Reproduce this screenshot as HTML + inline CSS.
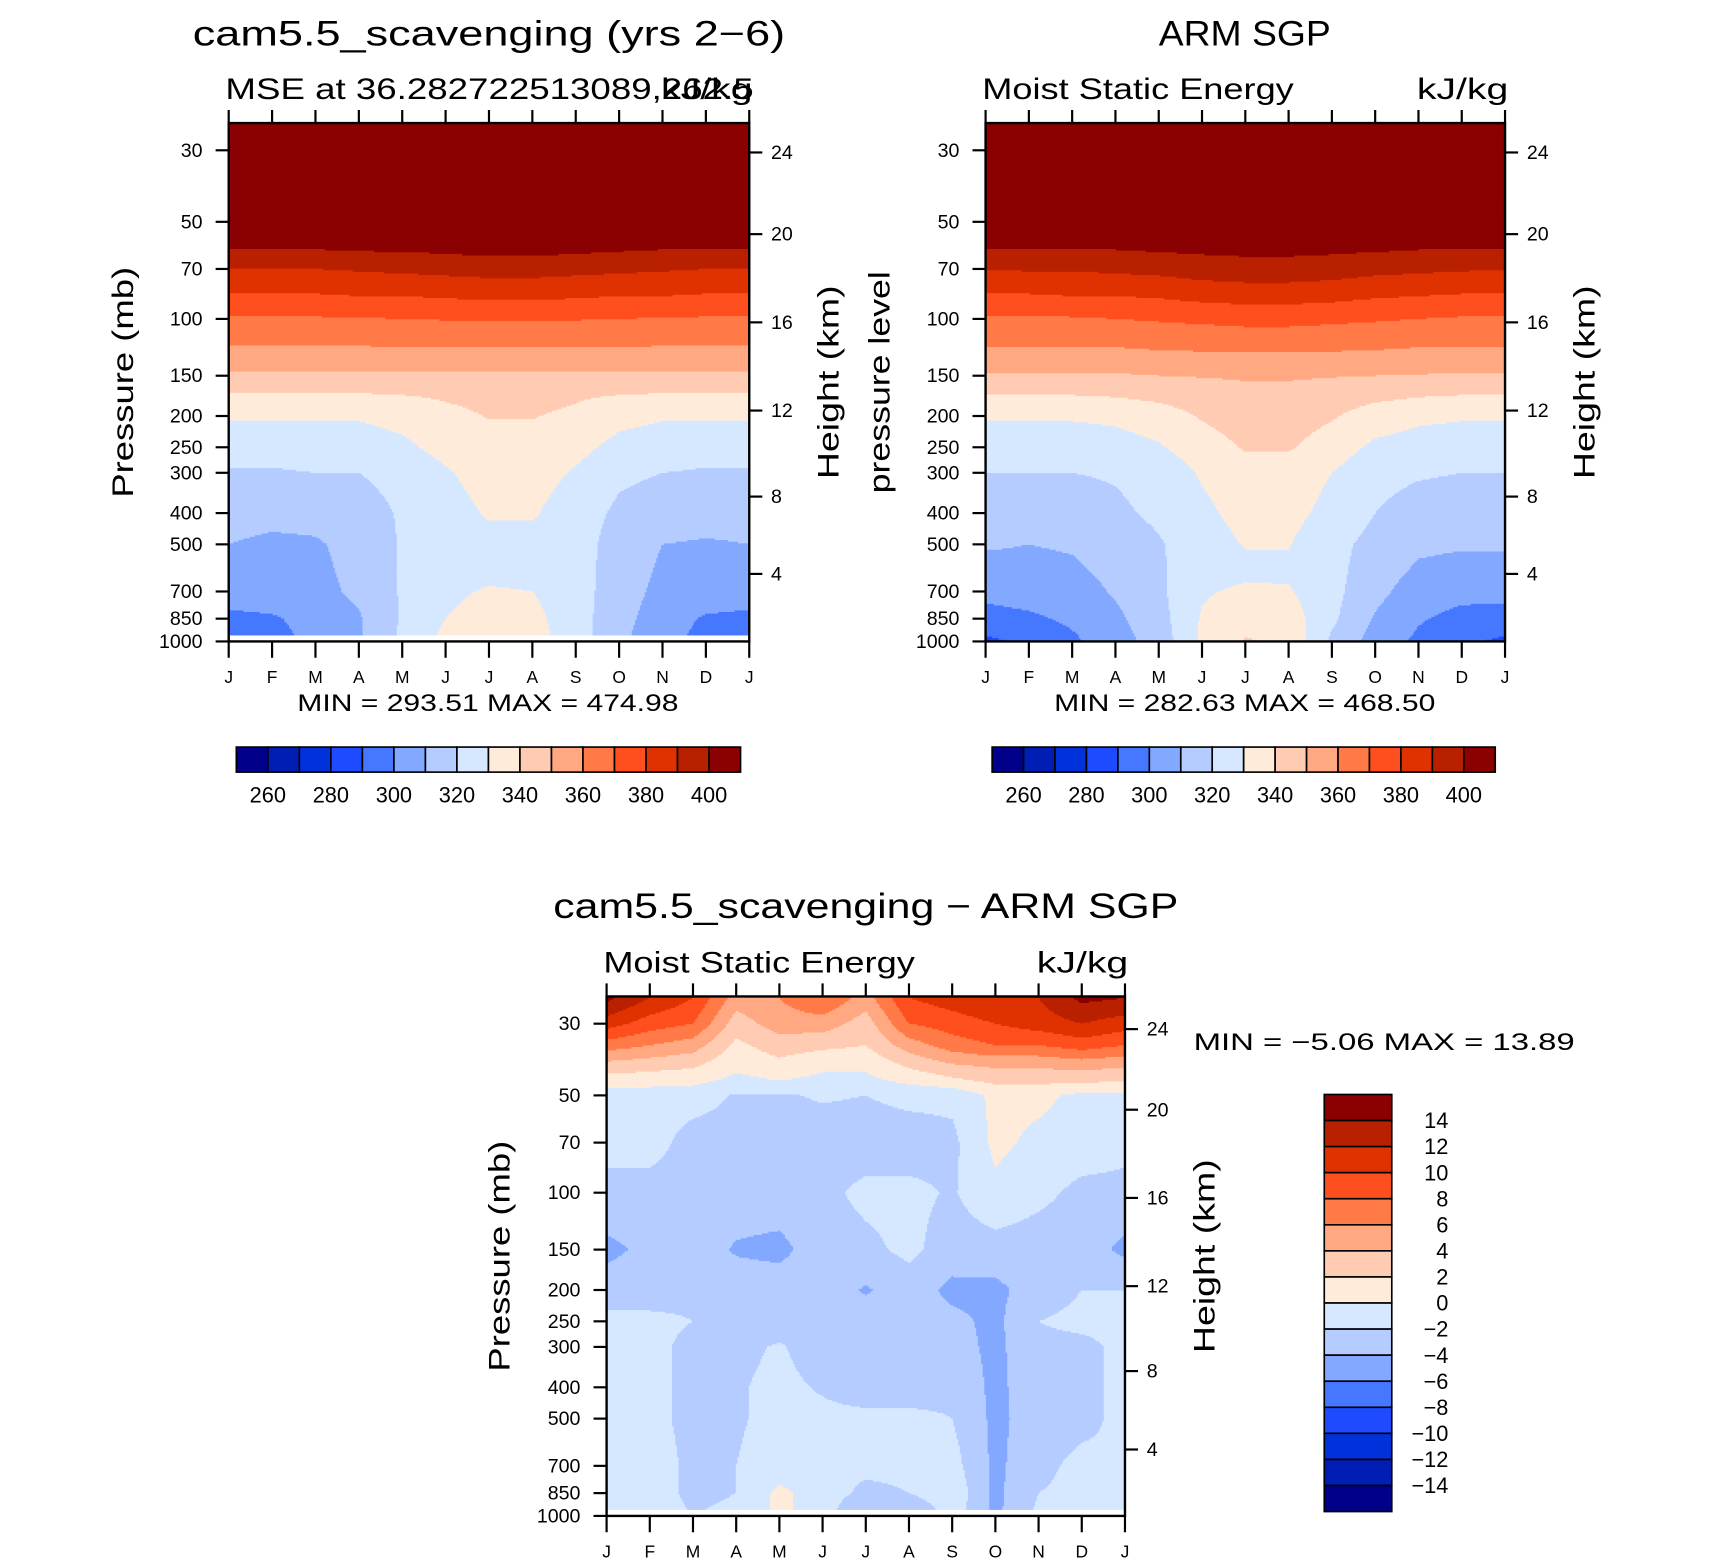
<!DOCTYPE html>
<html><head><meta charset="utf-8">
<style>
html,body{margin:0;padding:0;background:#fff;}
svg{display:block;font-family:"Liberation Sans",sans-serif;}
</style></head>
<body>
<svg id="chart" xmlns="http://www.w3.org/2000/svg" width="1710" height="1567" viewBox="0 0 1570.2 1438.9">
<rect x="0" y="0" width="1570.2" height="1438.9" fill="#fff"/>
<g id="layer"></g>
</svg>
<script>
// ===== data =====
const months = ["J","F","M","A","M","J","J","A","S","O","N","D","J"];
const levels = [25,50,60,70,85,100,125,150,175,200,250,300,400,500,600,700,850,1000];
const modelMSE = [
 [470,470,470,470,470,470,470,470,470,470,470,470,470],
 [415,415,415,416,416,417,418,418,417,416,416,415,415],
 [401,401,401,402,402,403,404,404,403,402,401,401,401],
 [390,390,390,391,392,393,394,394,393,392,391,390,390],
 [379,379,379,380,380,381,382,382,381,380,380,379,379],
 [369,369,369,369.5,370,370.5,371,371,370.5,370,369.5,369,369],
 [358.5,358.5,358.5,358.5,359,359,359,359,359,359,358.5,358.5,358.5],
 [348.5,348.5,348.5,348.5,348.5,348,348,348,348,348,348.5,348.5,348.5],
 [338,338,338,338,339,341,343,343,341,339,338,338,338],
 [331,331,331,331,333,337,340.5,340.5,338,333,331,331,331],
 [324,324,325,325,328,333,336,336,333,327,325,324,324],
 [319,319,320,320,323,329,334,334,329,322,320,319,319],
 [314,313,313,316,321,326,331,331,325,318,315,314,314],
 [310,308,309,313,321,325,327,327,324,316,310,309,310],
 [307,306.5,308,312.5,321,326,327,327,324,315.5,308.5,307,307],
 [304,305,307,312,321,328,331,330,324,315,307,305,304],
 [298,299,303,309,321,330,334,333,324,314,304,299,298],
 [295,297,302,309,322,333,336,334,325,312,303,297,295]
];
const obsMSE = [
 [468,468,468,468,468,468,468,468,468,468,468,468,468],
 [415,415,415,416,417,418,419,419,418,417,416,415,415],
 [400.5,400.5,401,401,402,402.5,403,403,402.5,402,401,400.5,400.5],
 [390.5,391,391,392,393,395,396,396,395,393,392,391,390.5],
 [379,379,380,380,381,383,384,384,383,381,380,379,379],
 [369,369,369,370,371,372,373,373,372,371,370,369,369],
 [359,359,359,359,360,360.5,361,361,360.5,360,359,359,359],
 [349,349,349,349,350,350.5,351,351,350.5,350,349.5,349,349],
 [339,339,339,340,342,345,347,347,345,342,340,339,339],
 [331,331,331,332,335,341,345,345,341,335,332,331,331],
 [324,324,325,326,329,335,341,341,335,328,326,325,324],
 [320,320,320,321,324,331,335,335,330,323,321,320,320],
 [314,314,315,318,322,328,333,333,327,320,316,315,314],
 [311,310,311,314,319,326,330.5,330.5,323,317,312,311,311],
 [307,307.5,308.5,312.5,318.5,326,328,328,323,315,308.5,307,307],
 [303,305,306,311,318,329,331.5,331,323,313,305,303,303],
 [296,298,302,308,316,331,336,335,322,309,301,297,296],
 [288,292,298,306,314,332,341,338,318,306,298,292,288]
];
const diffLevels = [25,30,35,40,45,50,70,100,150,200,250,300,400,500,700,850,1000];
const diffMSE = [
 [14.5,12,10,5,6,8,5,10,11,12,12,14.5,14],
 [11,9,8,3,5,5,3,8,9,10,11,12,11],
 [7,6,5,1.5,3,2.5,2,5,7,8,8,9,8],
 [3.5,3,2.5,0.5,1.5,0.5,0.5,2.5,4,4.5,4.5,5,4.5],
 [1,0.8,0.5,-0.5,0,-0.5,-0.5,0.5,1.5,2.5,2.5,2.5,2],
 [-1,-1,-1,-2.2,-2.2,-1.8,-2,-1.5,-1.5,0.5,0.5,-0.5,-0.5],
 [-1.5,-1,-3,-3,-3,-3,-3,-3,-2.5,0.5,-0.5,-1,-1.5],
 [-2.5,-3,-3,-3,-3,-2.5,-1.5,-1.5,-2.2,-0.5,-1.5,-2.5,-2.5],
 [-4.5,-3.5,-3,-4.2,-4.5,-3,-2.5,-1.5,-3,-2.8,-3,-3,-4.5],
 [-3,-3,-2.5,-3,-3,-3,-4.2,-3,-4.5,-4.5,-3,-2,-2],
 [-1.5,-1.5,-2,-2.5,-3,-3,-3,-3,-3.5,-4.5,-2,-1.5,-1.5],
 [-1.5,-1.5,-2.5,-2.5,-1.8,-3,-3,-3,-3.2,-4.5,-2.5,-2.5,-1.5],
 [-1.5,-1.5,-2.5,-2.2,-1.5,-2.2,-3,-3,-2.5,-4.5,-2.8,-2.5,-1.5],
 [-1.5,-1.5,-2.5,-2.2,-1.5,-1.5,-1.5,-1.5,-2,-4.5,-3,-2.5,-1.5],
 [-1.5,-1,-2.5,-2,-1.2,-1.5,-1.5,-1.5,-1.2,-4.5,-2.5,-1.5,-2],
 [-1,-1,-2.5,-2,0.5,-1,-2.5,-2,-0.5,-4.5,-2,-1.5,-1.5],
 [0.5,-1,-2,-1.5,0.5,-1,-4.5,-4.5,-1,-4.5,-1.5,-1,0.5]
];
const pTicks = [30,50,70,100,150,200,250,300,400,500,700,850,1000];
const hTicks = [24,20,16,12,8,4];
const absBarLabels = ["260","280","300","320","340","360","380","400"];
const diffBarLabels = ["14","12","10","8","6","4","2","0","−2","−4","−6","−8","−10","−12","−14"];
const palette = ['#00008B','#001EB4','#0032DC','#1E4BFF','#4678FF','#82A8FF','#B4CCFF','#D6E8FF','#FFEBD9','#FFCBB3','#FFA882','#FF7A47','#FF4F1E','#E03200','#B82000','#8B0000'];

// ===== helpers =====
const NS="http://www.w3.org/2000/svg";
const layer=document.getElementById('layer');
function mk(tag,attrs,parent){const e=document.createElementNS(NS,tag);for(const k in attrs)e.setAttribute(k,attrs[k]);(parent||layer).appendChild(e);return e;}
function txt(s,x,y,size,anchor,parent,extra){const t=mk('text',Object.assign({x:x,y:y,'font-size':size,'text-anchor':anchor||'start',fill:'#000'},extra||{}),parent);t.textContent=s;return t;}

function makePanel(cfg){
  const g=mk('g',{});
  
  
  const x0=cfg.x0,x1=cfg.x1,y0=cfg.y0,yb=cfg.yb,y30=cfg.y30;
  const L=Math.log(1000/30);
  const yOf=p=>yb-(Math.log(1000/p)/L)*(yb-y30);
  const pOf=y=>1000/Math.exp((yb-y)/(yb-y30)*L);
  const xOf=m=>x0+(x1-x0)*m/12;
  const lv=cfg.levels,data=cfg.data;
  const lnl=lv.map(p=>Math.log(p));
  function val(m,p){
    const lp=Math.log(Math.max(lv[0],Math.min(lv[lv.length-1],p)));
    let k=0;while(k<lv.length-2&&lp>lnl[k+1])k++;
    const t=(lp-lnl[k])/(lnl[k+1]-lnl[k]);
    m=Math.max(0,Math.min(12,m));
    let j=Math.min(11,Math.floor(m));const s=m-j;
    const a=data[k][j]*(1-s)+data[k][j+1]*s;
    const b=data[k+1][j]*(1-s)+data[k+1][j+1]*s;
    return a*(1-t)+b*t;
  }
  function bin(v){let i=Math.floor((v-cfg.base)/cfg.step)+1;return Math.max(0,Math.min(15,i));}
  const field=mk('g',{},g);
  
  
  const W=x1-x0, H=cfg.yData-y0;
  const nx=Math.round(W/1.5), ny=Math.round(H/1.5);
  const dx=W/nx, dy=H/ny;
  function emit(xs,xe,y,c){
    const r=mk('rect',{x:xs.toFixed(2),y:y.toFixed(2),width:(xe-xs+0.5).toFixed(2),height:(dy+0.5).toFixed(2),fill:palette[c]},field);
    
    
  }
  for(let r=0;r<ny;r++){
    const y=y0+r*dy;
    const p=pOf(y+dy/2);
    let runStart=x0,runC=-1;
    for(let i=0;i<nx;i++){
      const x=x0+i*dx;
      const c=bin(val((x+dx/2-x0)/W*12,p));
      if(c!==runC){
        if(runC>=0) emit(runStart,x,y,runC);
        runStart=x;runC=c;
      }
    }
    emit(runStart,x1,y,runC);
  }
  const fr=mk('rect',{x:x0,y:y0,width:W,height:yb-y0,fill:'none',stroke:'#000','stroke-width':2.2},g);
  
  
  months.forEach((mo,i)=>{
    const x=xOf(i);
    mk('line',{x1:x,y1:y0,x2:x,y2:y0-12,stroke:'#000','stroke-width':2},g);
    mk('line',{x1:x,y1:yb,x2:x,y2:yb+15,stroke:'#000','stroke-width':2},g);
    const t=txt(mo,x,yb+38,16,'middle',g);
    
    
  });
  pTicks.forEach(p=>{
    const y=yOf(p);
    mk('line',{x1:x0,y1:y,x2:x0-12,y2:y,stroke:'#000','stroke-width':2},g);
    const t=txt(String(p),x0-24,y+6,18,'end',g);
    
    
  });
  hTicks.forEach((h,i)=>{
    const y=cfg.hY[i];
    mk('line',{x1:x1,y1:y,x2:x1+12,y2:y,stroke:'#000','stroke-width':2},g);
    const t=txt(String(h),x1+20,y+6,18,'start',g);
    
    
  });
  const cy=(y0+yb)/2;
  const yl=txt(cfg.yTitle,0,0,27,'middle',g,{transform:`translate(${cfg.yTitleX},${cy}) rotate(-90)`,textLength:cfg.yTitleLen,lengthAdjust:'spacingAndGlyphs'});
  
  
  const hl=txt('Height  (km)',0,0,27,'middle',g,{transform:`translate(${x1+82},${cy}) rotate(-90)`,textLength:178,lengthAdjust:'spacingAndGlyphs'});
  
  
  const tt=txt(cfg.title,cfg.titleX,cfg.titleY,32,'middle',g,{textLength:cfg.titleLen,lengthAdjust:'spacingAndGlyphs'});
  
  
  const st1=txt(cfg.sub,x0-3,y0-22,27,'start',g,{textLength:cfg.subLen,lengthAdjust:'spacingAndGlyphs'});
  
  
  const un=txt('kJ/kg',x1+3,y0-22,27,'end',g,{textLength:84,lengthAdjust:'spacingAndGlyphs'});
  
  
  return g;
}

makePanel({name:'model-panel',x0:210,x1:688,y0:113,yb:589,y30:138,yData:583,levels:levels,data:modelMSE,base:260,step:10,
  hY:[140,215,296,377,456,527],yTitle:'Pressure  (mb)',yTitleX:122,yTitleLen:212,title:'cam5.5_scavenging (yrs 2−6)',titleX:449,titleY:42,titleLen:544,
  sub:'MSE at 36.282722513089,262.5',subLen:485});
makePanel({name:'obs-panel',x0:905,x1:1382,y0:113,yb:589,y30:138,yData:589,levels:levels,data:obsMSE,base:260,step:10,
  hY:[140,215,296,377,456,527],yTitle:'pressure level',yTitleX:817,yTitleLen:204,title:'ARM SGP',titleX:1143,titleY:42,titleLen:158,
  sub:'Moist Static Energy',subLen:286});
makePanel({name:'diff-panel',x0:557,x1:1033,y0:915,yb:1392,y30:940,yData:1386,levels:diffLevels,data:diffMSE,base:-14,step:2,
  hY:[945,1019,1100,1181,1259,1331],yTitle:'Pressure  (mb)',yTitleX:468,yTitleLen:212,title:'cam5.5_scavenging − ARM SGP',titleX:795,titleY:843,titleLen:574,
  sub:'Moist Static Energy',subLen:286});

[[ 'MIN = 293.51 MAX = 474.98',448,653,350],['MIN = 282.63 MAX = 468.50',1143,653,350]].forEach(a=>{
  const t=txt(a[0],a[1],a[2],22,'middle',null,{textLength:a[3],lengthAdjust:'spacingAndGlyphs'});
  
  
});
const mm=txt('MIN =   −5.06  MAX =   13.89',1096,964,22,'start',null,{textLength:350,lengthAdjust:'spacingAndGlyphs','xml:space':'preserve'});



function hbar(name,x0,x1,y,h){
  const g=mk('g',{});
  
  
  const w=(x1-x0)/16;
  palette.forEach((c,i)=>{
    const r=mk('rect',{x:x0+i*w,y:y,width:w,height:h,fill:c,stroke:'#000','stroke-width':1.5},g);
    
    
  });
  absBarLabels.forEach((s,i)=>{
    const t=txt(s,x0+w*(1+2*i),y+h+28,20,'middle',g);
    
    
  });
}
hbar('model-colorbar',217,680,686,23);
hbar('obs-colorbar',911,1373,686,23);
(function(){
  const g=mk('g',{});
  
  
  const x=1216,w=62,y0=1005,y1=1388,h=(y1-y0)/16;
  palette.slice().reverse().forEach((c,i)=>{
    const r=mk('rect',{x:x,y:y0+i*h,width:w,height:h,fill:c,stroke:'#000','stroke-width':1.5},g);
    
    
  });
  diffBarLabels.forEach((s,i)=>{
    const t=txt(s,1330,y0+h*(i+1)+7,20,'end',g);
    
    
  });
})();
</script>
</body></html>
